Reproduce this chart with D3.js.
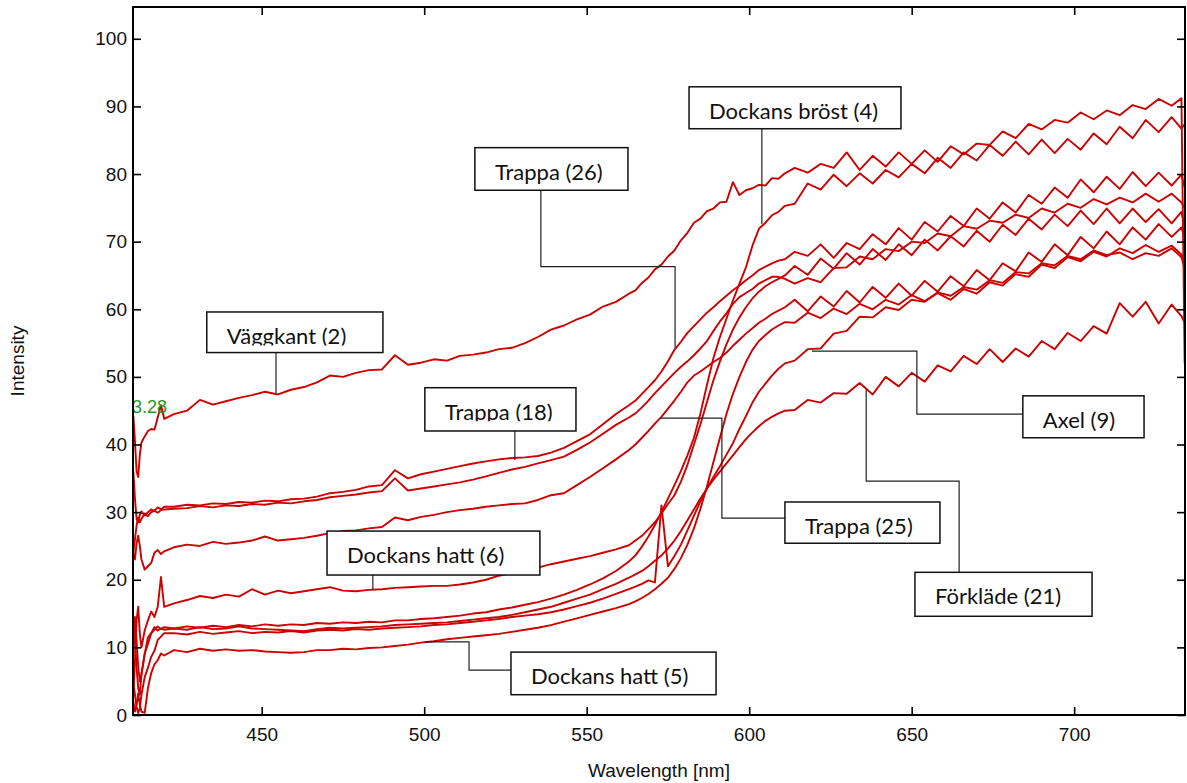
<!DOCTYPE html>
<html><head><meta charset="utf-8">
<script src="https://cdn.jsdelivr.net/npm/d3@7"></script>
<style>body{margin:0;background:#fff}svg{display:block}</style>
</head><body>
<svg id="chart" width="1187" height="783"></svg>
<script>
// ---------- DATA ----------
const wavelength = [
 410.5,411,411.5,412,412.5,413,414,415,416,417,418,419,420,
 423,427,431,435,439,443,447,451,455,459,463,467,471,475,479,483,487,491,495,499,503,507,511,515,519,523,527,531,535,539,543,547,551,555,559,563,
 565,567,569,571,573,575,577,579,581,583,585,587,589,591,593,595,597,599,601,603,605,607,609,611,
 614,618,622,626,630,634,638,642,646,650,654,658,662,666,670,674,678,682,686,690,694,698,702,706,710,714,718,722,726,730,733,734
];
const vaggkant2 = [
 44.2,40.5,36.0,35.2,38.5,40.3,41.2,42.0,42.3,42.2,44.0,45.8,43.8,
 44.5,45.0,46.6,45.9,46.4,46.9,47.3,47.8,47.4,48.1,
 48.5,49.2,50.2,50.0,50.6,51.0,51.1,53.2,51.8,52.1,
 52.6,52.4,53.1,53.3,53.6,54.1,54.3,55.0,55.9,57.0,
 57.6,58.5,59.2,60.4,61.1,62.3,
 62.8,63.9,64.7,65.9,66.6,67.8,68.7,70.2,71.3,72.8,73.4,74.5,74.9,75.8,75.9,78.8,76.9,77.6,77.9,78.4,78.3,79.4,79.3,80.1,
 80.9,80.2,81.5,80.9,83.2,80.6,82.7,81.1,83.2,81.5,
 83.5,81.8,84.1,82.9,84.5,84.3,86.3,85.3,87.4,86.6,
 88.0,87.6,89.1,88.1,89.4,88.7,90.2,89.6,91.1,90.1,
 91.2,52.0
];
const dockansBrost4 = [
 14.5,11.0,7.0,4.0,3.0,6.0,9.0,11.5,12.1,12.6,13.1,12.7,13.0,
 12.8,13.1,12.9,13.2,13.0,13.3,13.1,13.4,13.2,13.4,
 13.3,13.6,13.5,13.7,13.6,13.8,13.7,14.0,14.0,14.2,
 14.3,14.5,14.7,15.0,15.2,15.6,15.9,16.3,16.7,17.2,
 17.8,18.5,19.3,20.2,21.3,22.7,
 23.6,24.9,26.4,28.1,30.0,32.0,34.0,36.1,38.4,41.0,44.6,48.8,52.8,55.9,58.6,61.3,63.8,66.2,69.4,71.9,72.8,73.9,74.4,75.3,
 75.6,78.6,77.7,79.9,78.2,80.1,78.6,80.6,79.5,81.5,
 80.1,82.4,80.9,83.2,82.0,84.3,82.7,84.8,82.9,85.1,
 83.1,85.2,83.6,86.0,84.4,87.0,85.3,88.0,86.2,88.4,
 86.7,87.4
];
const trappa26 = [
 36.0,32.0,29.0,28.5,29.6,30.1,29.5,30.0,30.4,30.2,30.7,30.4,30.8,
 30.8,31.1,31.0,31.3,31.2,31.5,31.4,31.7,31.6,31.9,
 32.0,32.3,32.8,33.0,33.3,33.8,34.0,36.2,35.0,35.6,
 36.0,36.4,36.8,37.2,37.5,37.8,38.0,38.1,38.3,38.8,
 39.5,40.5,41.5,43.0,44.5,45.8,
 46.5,47.5,48.5,49.5,50.8,52.3,54.0,55.2,56.5,57.5,58.5,59.5,60.3,61.2,62.0,62.8,63.5,64.3,65.0,65.8,66.3,66.8,67.2,67.4,
 68.5,67.9,69.6,67.6,69.8,68.9,71.1,69.6,72.0,70.3,
 72.9,71.5,73.8,72.3,74.9,73.4,75.8,74.3,76.9,75.6,
 78.0,76.5,79.2,77.3,79.6,77.8,80.3,78.2,80.2,78.3,
 79.9,78.0
];
const trappa18 = [
 24.0,26.0,28.0,29.2,28.5,29.0,29.8,29.4,30.0,30.2,29.9,30.3,30.4,
 30.5,30.6,30.9,30.7,31.0,30.9,31.2,31.1,31.4,31.3,
 31.6,31.8,32.2,32.4,32.6,32.9,33.1,35.0,33.2,33.5,
 33.8,34.1,34.4,34.8,35.3,35.8,36.3,36.7,37.2,37.7,
 38.2,39.2,40.3,41.6,42.9,44.0,
 44.6,45.5,46.5,47.6,48.6,49.6,50.6,51.5,52.3,53.2,54.2,55.3,56.8,58.2,59.4,60.8,61.8,62.4,63.0,63.8,64.3,64.8,64.8,64.5,
 63.8,64.6,64.0,66.1,66.2,67.8,67.4,68.9,68.6,70.0,
 69.8,71.2,70.8,72.3,71.9,73.1,72.8,74.0,73.5,74.9,
 74.3,75.6,75.0,76.3,75.5,76.5,75.8,77.1,75.9,77.1,
 75.8,75.0
];
const trappa25 = [
 24.0,23.0,25.4,26.5,25.0,23.0,21.5,22.0,22.5,24.0,24.4,23.8,24.2,
 24.8,25.2,25.0,25.6,25.3,25.5,25.8,26.4,25.8,26.0,
 26.2,26.5,26.9,27.2,27.3,27.6,27.8,29.2,28.8,29.3,
 29.6,30.0,30.3,30.5,30.8,31.0,31.2,31.3,31.8,32.5,
 32.8,34.0,35.2,36.5,37.8,39.2,
 40.0,41.0,42.0,43.1,44.1,45.3,46.5,47.8,49.2,50.2,50.8,51.5,52.2,52.8,53.6,54.6,55.5,56.4,57.2,58.0,58.6,59.3,59.8,60.3,
 61.4,59.7,61.9,60.4,62.7,61.0,63.3,61.7,63.8,62.0,
 64.2,62.6,64.9,63.4,65.8,64.3,66.8,65.6,68.4,67.0,
 69.6,68.0,70.7,69.0,71.5,69.6,72.1,70.3,72.6,70.7,
 72.1,70.5
];
const dockansHatt6 = [
 3.0,8.0,14.0,16.0,12.0,10.0,12.5,14.0,15.3,14.5,16.0,20.4,16.0,
 16.5,17.0,17.6,17.3,17.8,17.5,18.6,17.8,18.4,18.0,
 18.3,18.6,18.9,18.4,18.3,18.5,18.6,18.8,18.9,19.0,
 19.1,19.1,19.3,19.6,20.0,20.6,21.0,21.4,21.8,22.3,
 22.7,23.1,23.5,24.0,24.5,25.1,
 25.8,26.5,27.5,28.5,29.8,31.2,32.5,34.5,37.0,40.0,43.0,46.3,49.5,52.3,54.8,57.0,58.8,60.3,61.6,62.6,63.4,64.0,64.5,65.0,
 66.4,65.1,67.5,66.0,68.3,66.6,68.9,67.3,69.6,68.0,
 70.3,68.7,70.8,69.3,71.6,70.0,72.5,71.0,73.4,71.8,
 74.0,72.3,74.6,72.6,74.9,72.7,74.9,72.9,74.8,72.7,
 74.4,72.0
];
const dockansHatt5 = [
 2.0,0.5,1.5,3.2,1.5,0.5,0.3,4.0,6.2,7.5,8.1,9.1,8.8,
 9.6,9.3,9.8,9.5,9.7,9.5,9.6,9.4,9.3,9.2,
 9.3,9.6,9.6,9.8,9.7,9.9,10.0,10.2,10.4,10.7,
 10.9,11.2,11.4,11.6,11.8,12.0,12.3,12.6,12.9,13.3,
 13.8,14.3,14.8,15.3,15.8,16.4,
 16.8,17.3,17.9,18.6,19.4,20.3,21.6,23.2,25.2,27.6,30.5,33.8,37.4,41.0,44.5,47.5,50.0,52.2,54.0,55.3,56.2,57.0,57.6,58.1,
 58.0,59.5,58.7,60.1,59.3,60.8,60.0,61.4,60.7,62.1,
 61.2,62.4,61.4,63.0,62.3,64.0,63.5,65.2,64.8,66.6,
 66.1,67.7,67.1,68.5,67.8,69.0,68.3,69.5,68.5,69.4,
 68.1,67.0
];
const axel9 = [
 4.7,3.0,1.2,0.3,1.0,3.0,5.6,7.0,8.6,9.5,11.1,11.6,12.1,
 12.1,11.9,12.3,12.0,12.2,12.4,12.1,12.3,12.2,12.4,
 12.2,12.5,12.6,12.5,12.7,12.6,12.8,12.9,13.0,13.1,
 13.3,13.4,13.6,13.8,14.0,14.2,14.5,14.7,14.9,15.2,
 15.6,16.1,16.6,17.2,17.9,18.6,
 19.0,19.4,19.9,19.6,31.0,22.0,23.5,25.2,27.3,29.5,31.6,33.5,35.2,36.8,38.5,40.2,42.3,44.2,46.2,47.8,49.0,50.2,51.2,52.0,
 52.4,54.1,54.2,56.4,56.8,58.9,58.8,60.3,59.9,61.4,
 61.1,62.5,62.0,63.3,62.9,64.3,63.9,65.5,65.3,66.8,
 66.5,67.9,67.4,68.7,68.0,68.4,67.4,68.3,67.9,69.0,
 67.7,66.0
];
const forklade21 = [
 10.0,14.5,11.0,7.1,5.0,6.0,9.1,10.5,12.1,13.0,12.5,12.8,12.6,
 12.8,12.6,13.0,12.7,12.8,13.1,12.8,12.7,12.6,12.5,
 12.4,12.7,12.9,12.8,12.9,13.0,13.1,13.3,13.4,13.5,
 13.6,13.7,13.9,14.1,14.3,14.5,14.8,15.2,15.6,16.0,
 16.6,17.2,17.8,18.6,19.4,20.3,
 20.8,21.3,22.0,22.8,23.6,24.6,25.8,27.2,28.8,30.4,32.0,33.5,34.8,36.0,37.2,38.4,39.6,40.8,41.8,42.7,43.5,44.1,44.6,45.0,
 45.1,46.6,46.2,47.6,47.5,49.1,47.4,50.0,48.6,50.6,
 49.3,51.7,50.8,53.1,51.9,54.1,52.2,54.2,53.0,55.3,
 54.1,56.5,55.3,57.5,56.4,60.9,58.9,61.1,57.9,60.7,
 59.0,58.0
];
const allSeries = [vaggkant2, dockansBrost4, trappa26, trappa18, trappa25, dockansHatt6, dockansHatt5, axel9, forklade21];

const xTicks = [450, 500, 550, 600, 650, 700];
const yTicks = [0, 10, 20, 30, 40, 50, 60, 70, 80, 90, 100];
const xTitle = "Wavelength [nm]";
const yTitle = "Intensity";

// callouts: box [wl left, wl right, intensity top, intensity bottom], leader polyline in data units
const callouts = [
 {text:"Väggkant (2)",      box:[433.1,487.3,59.6,53.6], leader:[[454.4,53.6],[454.4,47.6]], cut:true},
 {text:"Trappa (18)",       box:[500.2,546.7,48.4,42.0], leader:[[527.9,42.0],[527.9,37.7]], cut:true},
 {text:"Trappa (26)",       box:[515.6,562.7,83.9,77.6], leader:[[535.9,77.6],[535.9,66.3],[577.2,66.3],[577.2,54.3]]},
 {text:"Dockans bröst (4)", box:[581.5,646.7,92.9,86.7], leader:[[603.9,86.7],[603.9,72.6]]},
 {text:"Dockans hatt (6)",  box:[470.1,535.6,27.2,20.7], leader:[[484.2,20.7],[484.2,18.5]]},
 {text:"Dockans hatt (5)",  box:[526.7,589.8,9.3,3.0],   leader:[[526.7,6.65],[513.8,6.65],[513.8,10.8],[500.2,10.8]]},
 {text:"Trappa (25)",       box:[611.0,658.7,31.5,25.4], leader:[[611.0,29.1],[591.6,29.1],[591.6,43.9],[572.6,43.9]]},
 {text:"Axel (9)",          box:[684.2,721.5,47.2,41.0], leader:[[684.2,44.5],[651.6,44.5],[651.6,53.8],[619.3,53.8]]},
 {text:"Förkläde (21)",     box:[651.0,705.5,21.1,14.6], leader:[[664.6,21.1],[664.6,34.6],[636.0,34.6],[636.0,48.1]]}
];
const cursorNote = {text:"3.28", wl:410.1, v:44.66};

// ---------- DRAW ----------
const W = 1187, H = 783;
const L = 133, T = 7, R = 1185, B = 715;
const svg = d3.select("#chart");
svg.append("rect").attr("width", W).attr("height", H).attr("fill", "#fff");

const x = d3.scaleLinear().domain([410.4, 734.1]).range([L, R]);
const y = d3.scaleLinear().domain([0, 104.7]).range([B, T]);

const defs = svg.append("defs");
defs.append("clipPath").attr("id", "plotclip")
  .append("rect").attr("x", L).attr("y", T).attr("width", R - L).attr("height", B - T);

const gLines = svg.append("g").attr("clip-path", "url(#plotclip)");
const line = d3.line().x((d, i) => x(wavelength[i])).y(d => y(d));
allSeries.forEach(s => {
  gLines.append("path").attr("d", line(s))
    .attr("fill", "none").attr("stroke", "#cc0000")
    .attr("stroke-width", 1.9).attr("stroke-linejoin", "round");
});

// cursor value note
svg.append("text").attr("x", x(cursorNote.wl)).attr("y", y(cursorNote.v))
  .attr("font-family", "'Liberation Sans', Arial, sans-serif").attr("font-size", 18)
  .attr("fill", "#1f9a1f").text(cursorNote.text);

// callouts
const gAnn = svg.append("g");
const lp = d3.line().x(d => x(d[0])).y(d => y(d[1]));
callouts.forEach(c => {
  gAnn.append("path").attr("d", lp(c.leader)).attr("fill", "none")
    .attr("stroke", "#222").attr("stroke-width", 1.2);
});
callouts.forEach((c, i) => {
  const x0 = x(c.box[0]), x1 = x(c.box[1]), y0 = y(c.box[2]), y1 = y(c.box[3]);
  gAnn.append("rect").attr("x", x0).attr("y", y0).attr("width", x1 - x0).attr("height", y1 - y0)
    .attr("fill", "#fff").attr("stroke", "#111").attr("stroke-width", 1.5);
  const base = y0 + 32;
  if (c.cut) {
    defs.append("clipPath").attr("id", "cut" + i).append("rect")
      .attr("x", x0).attr("y", y0).attr("width", x1 - x0).attr("height", base + 1.5 - y0);
  }
  const t = gAnn.append("text").attr("x", x0 + 20).attr("y", base)
    .attr("font-family", "Lato, 'Open Sans', sans-serif").attr("font-size", 22)
    .attr("fill", "#111").text(c.text);
  if (c.cut) t.attr("clip-path", "url(#cut" + i + ")");
});

// axes
const tickFont = "'Liberation Sans', Arial, Helvetica, sans-serif";
function styleAxis(g) {
  g.select(".domain").remove();
  g.selectAll(".tick line").attr("stroke", "#000").attr("stroke-width", 1.6);
  g.selectAll("text").attr("font-family", tickFont).attr("font-size", 19).attr("fill", "#111");
}
svg.append("g").attr("transform", `translate(0,${B})`)
  .call(d3.axisBottom(x).tickValues(xTicks).tickSizeInner(-8).tickSizeOuter(0).tickPadding(13))
  .call(styleAxis);
svg.append("g").attr("transform", `translate(0,${T})`)
  .call(d3.axisTop(x).tickValues(xTicks).tickSizeInner(-8).tickSizeOuter(0).tickFormat(""))
  .call(styleAxis);
svg.append("g").attr("transform", `translate(${L},0)`)
  .call(d3.axisLeft(y).tickValues(yTicks).tickSizeInner(-8).tickSizeOuter(0).tickPadding(6))
  .call(styleAxis);
svg.append("g").attr("transform", `translate(${R},0)`)
  .call(d3.axisRight(y).tickValues(yTicks).tickSizeInner(-8).tickSizeOuter(0).tickFormat(""))
  .call(styleAxis);

svg.append("rect").attr("x", L).attr("y", T).attr("width", R - L).attr("height", B - T)
  .attr("fill", "none").attr("stroke", "#000").attr("stroke-width", 2);

svg.append("text").attr("x", (L + R) / 2).attr("y", 777).attr("text-anchor", "middle")
  .attr("font-family", tickFont).attr("font-size", 19).attr("fill", "#111").text(xTitle);
svg.append("text").attr("transform", `translate(24,${(T + B) / 2}) rotate(-90)`).attr("text-anchor", "middle")
  .attr("font-family", tickFont).attr("font-size", 19).attr("fill", "#111").text(yTitle);
</script>
</body></html>
